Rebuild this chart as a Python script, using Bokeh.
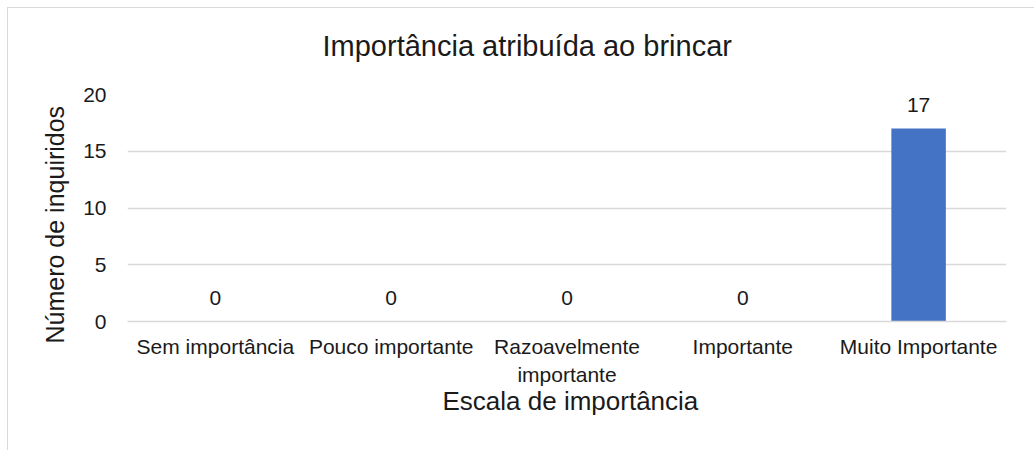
from bokeh.plotting import figure
from bokeh.models import (ColumnDataSource, Range1d, FactorRange, FixedTicker,
                          CategoricalAxis, Title, CustomJSTickFormatter)
from bokeh.core.properties import value
from bokeh.embed import file_html
from bokeh.resources import INLINE

categories = ["Sem importância", "Pouco importante", "Razoavelmente importante",
              "Importante", "Muito Importante"]
counts = [0, 0, 0, 0, 17]
y_ticks = [0, 5, 10, 15, 20]
title_text = "Importância atribuída ao brincar"
x_title = "Escala de importância"
y_title = "Número de inquiridos"
# category names split over two lines, as in the reference
line1 = {"Razoavelmente importante": "Razoavelmente"}
line2 = {c: ("importante" if c == "Razoavelmente importante" else "") for c in categories}

FONT = "Liberation Sans"
TXT = "#1a1a1a"
GRID = "#d9d9d9"
BAR = "#4472C4"

source = ColumnDataSource(dict(cat=categories, n=counts, lbl=[str(v) for v in counts]))

p = figure(width=1026, height=442, output_backend="svg", toolbar_location=None,
           x_range=FactorRange(*categories), y_range=Range1d(0, 20),
           min_border_left=119, min_border_right=28, min_border_top=86,
           min_border_bottom=129, tools="")
p.margin = (8, 0, 0, 8)
p.styles = {"outline": "1.5px solid #d9d9d9"}
p.outline_line_color = None
p.background_fill_color = "white"
p.border_fill_color = "white"

p.vbar(x="cat", top="n", width=0.31, source=source, color=BAR, line_color=None)
p.text(x="cat", y="n", text="lbl", source=source, y_offset=-24,
       text_align="center", text_baseline="middle",
       text_font=value(FONT), text_font_size="21px", text_color=TXT)

p.xgrid.grid_line_color = None
p.ygrid.grid_line_color = GRID
p.ygrid.grid_line_width = 1.5
p.yaxis.ticker = FixedTicker(ticks=y_ticks)

ax2 = CategoricalAxis()
p.add_layout(ax2, "below")

JS = "const v = labels[tick]; return (v === undefined) ? tick : v;"
p.xaxis[0].formatter = CustomJSTickFormatter(args=dict(labels=line1), code=JS)
ax2.formatter = CustomJSTickFormatter(args=dict(labels=line2), code=JS)

for ax in (p.xaxis[0], p.yaxis[0], ax2):
    ax.major_tick_line_color = None
    ax.minor_tick_line_color = None
    ax.major_tick_out = 0
    ax.major_tick_in = 0
    ax.major_label_text_font = FONT
    ax.major_label_text_font_size = "21px"
    ax.major_label_text_color = TXT
p.yaxis.axis_line_color = None
p.xaxis[0].axis_line_color = GRID
p.xaxis[0].axis_line_width = 1.5
ax2.axis_line_color = None
p.yaxis.major_label_standoff = 21
p.xaxis[0].major_label_standoff = 13
ax2.major_label_standoff = 2

# spacer between plot frame and chart title
spacer = Title(text=" ", standoff=30, text_font_size="1px", text_color="white")
p.add_layout(spacer, "above")
t = Title(text=title_text, align="left", offset=195, standoff=0,
          text_font=FONT, text_font_size="29px", text_color=TXT,
          text_font_style="normal")
p.add_layout(t, "above")
tx = Title(text=x_title, align="left", offset=315, standoff=-10,
           text_font=FONT, text_font_size="26px", text_color=TXT,
           text_font_style="normal")
p.add_layout(tx, "below")
ty = Title(text=y_title, align="left", offset=-22, standoff=24,
           text_font=FONT, text_font_size="25px", text_color=TXT,
           text_font_style="normal")
p.add_layout(ty, "left")

open("out.html", "w").write(file_html(p, INLINE))
